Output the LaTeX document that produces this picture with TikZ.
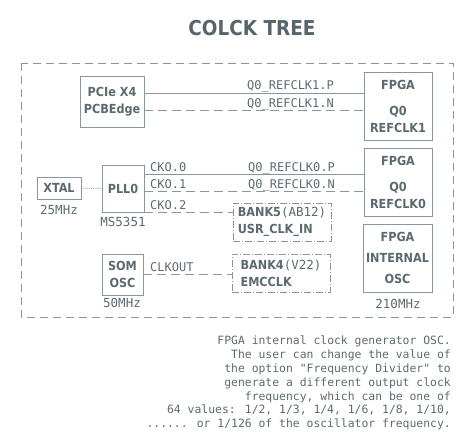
\documentclass[tikz,border=0pt]{standalone}
\usepackage{fontspec}
\setmainfont{DejaVu Sans Condensed}
\newfontfamily\labelmono{DejaVu Sans Mono}
\definecolor{linec}{HTML}{8A969B}
\definecolor{textc}{HTML}{5C6A70}
\definecolor{titlec}{HTML}{56646B}
\tikzset{
  boxc/.style={draw=linec, line width=0.9pt, inner sep=0pt, text=textc,
    font=\fontsize{12.5}{17}\selectfont\bfseries, align=center},
  bankbox/.style={boxc, dash pattern=on 7pt off 2pt on 1pt off 2pt, align=left},
  wire/.style={draw=linec, line width=0.9pt},
  dwire/.style={wire, dash pattern=on 9pt off 5pt},
  sig/.style={text=textc, font=\labelmono\fontsize{12}{14}\selectfont, inner sep=0pt, anchor=base west},
  freq/.style={text=textc, font=\labelmono\fontsize{12.5}{14}\selectfont, inner sep=0pt},
}
\begin{document}
\begin{tikzpicture}[x=1pt,y=-1pt]
  \useasboundingbox (0,0) rectangle (473,441);
  \node[text=titlec, font=\fontsize{20.5}{24}\selectfont\bfseries] (ttl) at (252,28) {COLCK TREE};
  \draw[draw=linec, line width=0.9pt, dash pattern=on 8pt off 5pt] (21,63) rectangle (453,317);
  % boxes
  \node[boxc, minimum width=64, minimum height=51] (pcie) at (112,101.5) {PCIe X4\\PCBEdge};
  \node[boxc, minimum width=68, minimum height=68] (fpgaA) at (398,106) {FPGA\\[9pt]Q0\\REFCLK1};
  \node[boxc, minimum width=68, minimum height=68] (fpgaB) at (398,182) {FPGA\\[9pt]Q0\\REFCLK0};
  \node[boxc, minimum width=69, minimum height=68] (osc) at (397.5,258) {FPGA\\[4pt]INTERNAL\\[4pt]OSC};
  \node[boxc, minimum width=44, minimum height=22] (xtal) at (59,188) {XTAL};
  \node[boxc, minimum width=42, minimum height=47] (pll) at (123,188.5) {PLL0};
  \node[boxc, minimum width=41, minimum height=41] (som) at (122.5,274.5) {SOM\\OSC};
  \node[bankbox, minimum width=98, minimum height=38] (bankA) at (282,222)
    {BANK5{\labelmono\mdseries(AB12)}\\USR\_CLK\_IN};
  \node[bankbox, minimum width=98, minimum height=38] (bankB) at (281,273)
    {BANK4{\labelmono\mdseries(V22)}\\EMCCLK};
  % frequencies
  \node[freq] (fx) at (59,210) {25MHz};
  \node[freq] (fp) at (123,222) {MS5351};
  \node[freq] (fs) at (122,303) {50MHz};
  \node[freq] (fo) at (398,304) {210MHz};
  % connectors
  \draw[wire] (pcie.east |- 0,93) -- (fpgaA.west |- 0,93);
  \draw[dwire] (pcie.east |- 0,110) -- (fpgaA.west |- 0,110);
  \draw[wire] (pll.east |- 0,174) -- (fpgaB.west |- 0,174);
  \draw[dwire] (pll.east |- 0,191) -- (fpgaB.west |- 0,191);
  \draw[dwire] (pll.south east) -- (bankA.west |- pll.south east);
  \draw[wire, densely dotted] (xtal) -- (pll);
  \draw[dwire] (som.east) -- (bankB.west |- som.east);
  % signal names
  \node[sig] (p1) at (247,90) {Q0\_REFCLK1.P};
  \node[sig] (n1) at (247,107) {Q0\_REFCLK1.N};
  \node[sig] (p0) at (248,171) {Q0\_REFCLK0.P};
  \node[sig] (n0) at (248,188) {Q0\_REFCLK0.N};
  \node[sig] (c0) at (150,171) {CKO.0};
  \node[sig] (c1) at (150,188) {CKO.1};
  \node[sig] (c2) at (150,209) {CKO.2};
  \node[sig] (co) at (150,271) {CLKOUT};
  % note
  \node[text=textc, font=\labelmono\fontsize{11.4}{13.8}\selectfont, align=right, inner sep=0pt,
    anchor=north east] (note) at (451,336)
    {FPGA internal clock generator OSC.\\
     The user can change the value of\\
     the option "Frequency Divider" to\\
     generate a different output clock\\
     frequency, which can be one of\\
     64 values: 1/2, 1/3, 1/4, 1/6, 1/8, 1/10,\\
     ...... or 1/126 of the oscillator frequency.};
\end{tikzpicture}
\end{document}
